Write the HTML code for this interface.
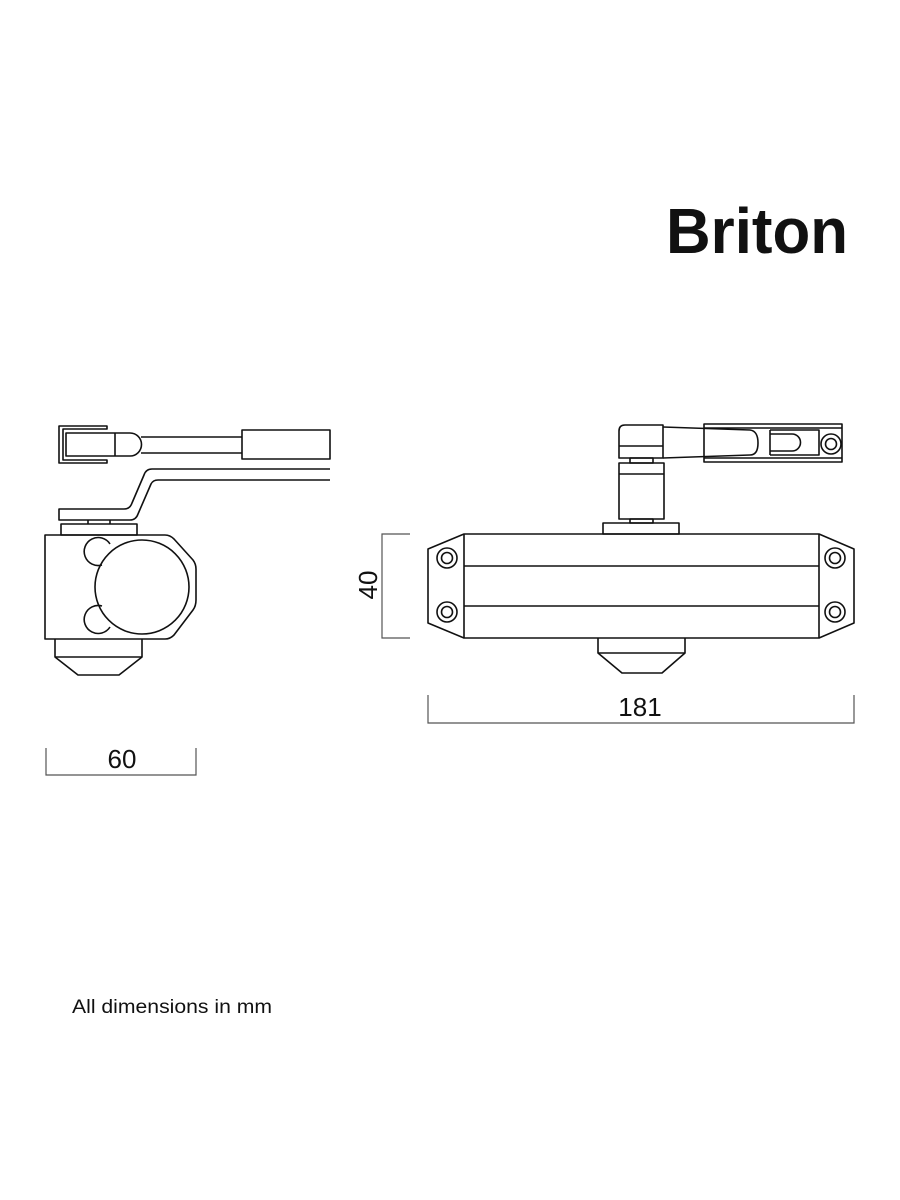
<!DOCTYPE html>
<html><head><style>html,body{margin:0;padding:0;background:#fff}svg{display:block}</style></head>
<body>
<svg width="900" height="1200" viewBox="0 0 900 1200" xmlns="http://www.w3.org/2000/svg">
<rect width="900" height="1200" fill="#fff"/>
<text x="666" y="253" font-family="Liberation Sans, sans-serif" font-weight="bold" font-size="64" textLength="182" lengthAdjust="spacingAndGlyphs" fill="#111">Briton</text>
<g fill="none" stroke="#111" stroke-width="1.6" stroke-linejoin="round">
<path d="M107,426 H59 V463 H107 V460 H63 V429 H107 Z"/>
<path d="M66,433 H130 A11.5,11.5 0 0 1 130,456 H66 Z"/>
<line x1="115" y1="433" x2="115" y2="456"/>
<path d="M141,437 H242 M141,453 H242"/>
<rect x="242" y="430" width="88" height="29"/>
<path d="M330,469 H152 Q146,469 144,475 L132,503 Q130,509 124,509 H59 V520 H130 Q136,520 138,514 L151,484 Q153,480 158,480 H330"/>
<rect x="61" y="524" width="76" height="11"/>
<line x1="88" y1="520" x2="88" y2="524"/><line x1="110" y1="520" x2="110" y2="524"/>
<path d="M45,535 H165 Q170,535 174,539 L193,560 Q196,564 196,569 V600 Q196,606 193,610 L174,635 Q170,639 165,639 H45 Z"/>
<circle cx="142" cy="587" r="47"/>
<path d="M102,565 A14,14 0 1 1 110,544"/>
<path d="M110,627 A14,14 0 1 1 102,606"/>
<path d="M55,639 V657 L78,675 H119 L142,657 V639"/>
<line x1="55" y1="657" x2="142" y2="657"/>
<rect x="464" y="534" width="355" height="104"/>
<path d="M464,566 H819 M464,606 H819"/>
<path d="M464,534 L428,549 V623 L464,638"/>
<path d="M819,534 L854,549 V623 L819,638"/>
<circle cx="447" cy="558" r="10"/><circle cx="447" cy="558" r="5.5"/>
<circle cx="447" cy="612" r="10"/><circle cx="447" cy="612" r="5.5"/>
<circle cx="835" cy="558" r="10"/><circle cx="835" cy="558" r="5.5"/>
<circle cx="835" cy="612" r="10"/><circle cx="835" cy="612" r="5.5"/>
<rect x="603" y="523" width="76" height="11"/>
<rect x="630" y="519" width="23" height="4"/>
<rect x="619" y="463" width="45" height="56"/>
<line x1="619" y1="474" x2="664" y2="474"/>
<rect x="630" y="458" width="23" height="5"/>
<path d="M625,425 H663 V458 H619 V431 Q619,425 625,425 Z"/>
<line x1="619" y1="446" x2="663" y2="446"/>
<path d="M663,427 L750,430 Q758,431 758,443 Q758,455 750,455 L663,458"/>
<rect x="704" y="424" width="138" height="38"/>
<path d="M704,428 H842"/>
<path d="M704,458 H842"/>
<path d="M770,430 H819 V455 H770"/>
<path d="M770,434 H792 A8.5,8.5 0 0 1 792,451 H770"/>
<line x1="770" y1="430" x2="770" y2="455"/>
<circle cx="831" cy="444" r="10"/><circle cx="831" cy="444" r="5.5"/>
<path d="M598,638 V653 L622,673 H662 L685,653 V638"/>
<line x1="598" y1="653" x2="685" y2="653"/>
</g>
<g fill="none" stroke="#555" stroke-width="1.2">
<path d="M410,534 H382 V638 H410"/>
<path d="M428,695 V723 H854 V695"/>
<path d="M46,748 V775 H196 V748"/>
</g>
<g font-family="Liberation Sans, sans-serif" fill="#111">
<text x="640" y="716" font-size="26" text-anchor="middle">181</text>
<text x="122" y="768" font-size="26" text-anchor="middle">60</text>
<text transform="translate(377,585) rotate(-90)" font-size="26" text-anchor="middle">40</text>
<text x="72" y="1013" font-size="19" textLength="200" lengthAdjust="spacingAndGlyphs">All dimensions in mm</text>
</g>
</svg>
</body></html>
